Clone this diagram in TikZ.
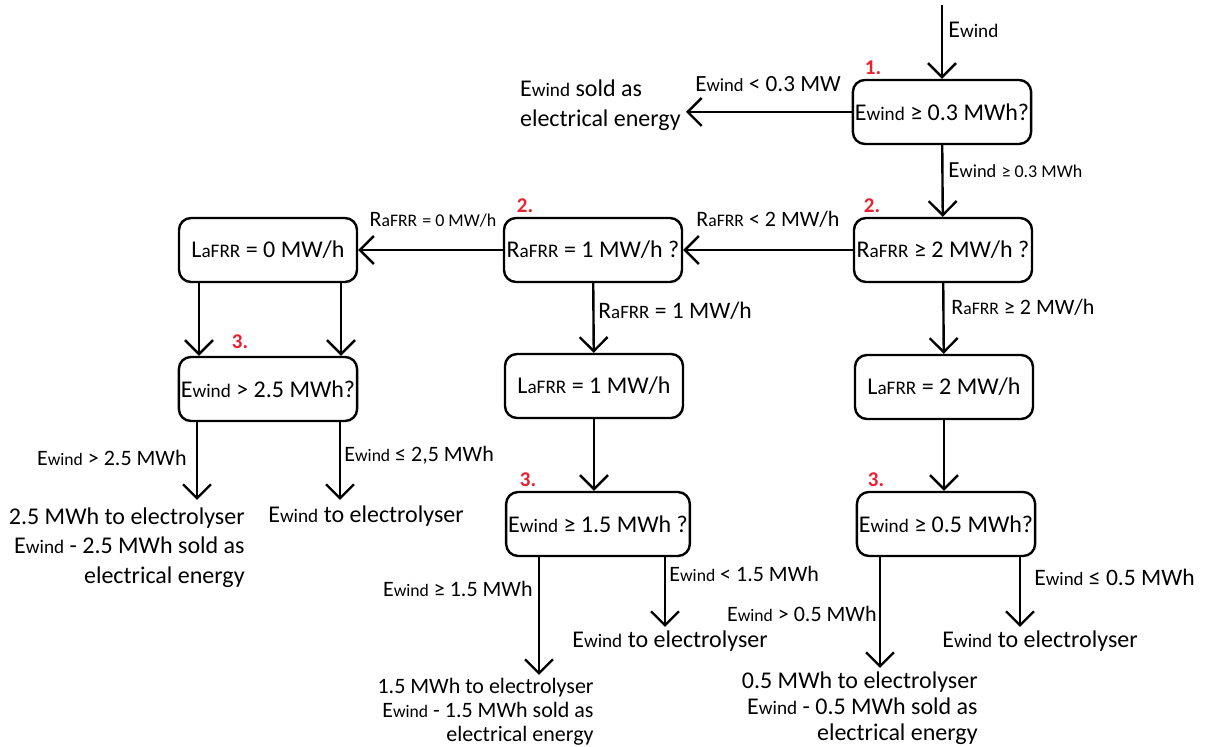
\documentclass[tikz,border=0pt]{standalone}
\usepackage{fontspec}
\setmainfont{Carlito}
\usetikzlibrary{arrows.meta}
\makeatletter
\newcommand\lw[1]{{\fontsize{\strip@pt\dimexpr0.8\dimexpr\f@size pt\relax\relax}{\f@baselineskip}\selectfont#1}}
\makeatother
\newcommand\Ew{E\lw{wind}}
\newcommand\Ra{R\lw{aFRR}}
\newcommand\La{L\lw{aFRR}}
\definecolor{stepred}{RGB}{232,32,48}

\begin{document}
\begin{tikzpicture}[
    x={(0.5pt,0)}, y={(0,-0.5pt)},
    box/.style={draw=black, line width=1.2pt, rounded corners=6pt,
        minimum width=89pt, minimum height=32pt, inner sep=1pt,
        font=\fontsize{12}{14}\selectfont},
    arr/.style={line width=1.2pt, -{Straight Barb[length=7pt, width=14pt]}},
    lbl/.style={font=\fontsize{11}{13}\selectfont, inner sep=1pt},
    res/.style={font=\fontsize{12}{14.75}\selectfont, inner sep=0pt},
    num/.style={text=stepred, font=\bfseries\fontsize{10.5}{12}\selectfont, inner sep=0pt}
]
    \useasboundingbox (0,0) rectangle (1207,747);

    % decision boxes
    \node[box] (q1) at (942,112) {\Ew{} ≥ 0.3 MWh?};
    \node[box] (q2) at (943,250) {\Ra{} ≥ 2 MW/h ?};
    \node[box] (q3) at (593,250) {\Ra{} = 1 MW/h ?};
    \node[box] (l0) at (268,250) {\La{} = 0 MW/h};
    \node[box] (q5) at (268,389) {\Ew{} > 2.5 MWh?};
    \node[box] (l1) at (594,386) {\La{} = 1 MW/h};
    \node[box] (q7) at (598,524) {\Ew{} ≥ 1.5 MWh ?};
    \node[box] (l2) at (944,387) {\La{} = 2 MW/h};
    \node[box] (q9) at (946,524) {\Ew{} ≥ 0.5 MWh?};

    % step numbers
    \node[num] (n1) at (873,68) {1.};
    \node[num] (n2a) at (872,206) {2.};
    \node[num] (n2b) at (525,206) {2.};
    \node[num] (n3a) at (240,342) {3.};
    \node[num] (n3b) at (528,480) {3.};
    \node[num] (n3c) at (876,480) {3.};

    % step 1
    \coordinate (start) at (942,5);
    \draw[arr] (start) -- (q1);
    \node[lbl, anchor=west, font=\fontsize{12}{14}\selectfont] (lstart) at (946,30) {\Ew};
    \coordinate (sold1) at (686,112);
    \draw[arr] (q1) -- (sold1);
    \node[lbl, font=\fontsize{11.6}{13}\selectfont] (lq1no) at (768,84) {\Ew{} < 0.3 MW};
    \node[res, anchor=east, align=left] (r1) at (681,105) {\Ew{} sold as\\electrical energy};
    \draw[arr] (q1) -- (q2);
    \node[lbl, anchor=west, font=\fontsize{11.5}{13}\selectfont] (lq1yes) at (946,170) {\Ew{} {\fontsize{9}{10}\selectfont ≥ 0.3 MWh}};

    % step 2
    \draw[arr] (q2) -- (q3);
    \node[lbl] (lq2no) at (768,219) {\Ra{} < 2 MW/h};
    \draw[arr] (q3) -- (l0);
    \node[lbl] (lq3no) at (433,220) {\Ra{} {\fontsize{9}{10}\selectfont = 0 MW/h}};
    \draw[arr] (q3) -- (l1);
    \node[lbl, anchor=west, font=\fontsize{11.8}{13}\selectfont] (lq3yes) at (596,311) {\Ra{} = 1 MW/h};
    \draw[arr] (q2) -- (l2);
    \node[lbl, anchor=west, font=\fontsize{11}{13}\selectfont] (lq2yes) at (949,307) {\Ra{} ≥ 2 MW/h};

    % step 3, left branch
    \draw[arr] ([xshift=-34.5pt]l0.south) -- ([xshift=-34.5pt]q5.north);
    \draw[arr] ([xshift=36.5pt]l0.south) -- ([xshift=36.5pt]q5.north);
    \coordinate (e5a) at (197,500);
    \coordinate (e5b) at (340,500);
    \draw[arr] (q5.south -| e5a) -- (e5a);
    \draw[arr] (q5.south -| e5b) -- (e5b);
    \node[lbl, anchor=east] (lq5yes) at (189,458) {\Ew{} > 2.5 MWh};
    \node[lbl, anchor=west] (lq5no) at (342,455) {\Ew{} ≤ 2,5 MWh};
    \node[res, anchor=north east, align=right] (r5a) at (245,507) {2.5 MWh to electrolyser\\\Ew{} - 2.5 MWh sold as\\electrical energy};
    \node[res, anchor=north] (r5b) at (366,505) {\Ew{} to electrolyser};

    % step 3, middle branch
    \draw[arr] (l1) -- (l1 |- q7.north);
    \coordinate (e7a) at (539,675);
    \coordinate (e7b) at (665,627);
    \draw[arr] (q7.south -| e7a) -- (e7a);
    \draw[arr] (q7.south -| e7b) -- (e7b);
    \node[lbl, anchor=east] (lq7yes) at (535,589) {\Ew{} ≥ 1.5 MWh};
    \node[lbl, anchor=west] (lq7no) at (667,574) {\Ew{} < 1.5 MWh};
    \node[res, font=\fontsize{11}{12}\selectfont, anchor=north east, align=right] (r7a) at (594,678) {1.5 MWh to electrolyser\\\Ew{} - 1.5 MWh sold as\\electrical energy};
    \node[res] (r7b) at (670,641) {\Ew{} to electrolyser};

    % step 3, right branch
    \draw[arr] (l2) -- (l2 |- q9.north);
    \coordinate (e9a) at (880,668);
    \coordinate (e9b) at (1020,627);
    \draw[arr] (q9.south -| e9a) -- (e9a);
    \draw[arr] (q9.south -| e9b) -- (e9b);
    \node[lbl, anchor=east] (lq9yes) at (879,614) {\Ew{} > 0.5 MWh};
    \node[lbl, anchor=west, font=\fontsize{11.8}{13}\selectfont] (lq9no) at (1032,577) {\Ew{} ≤ 0.5 MWh};
    \node[res, font=\fontsize{12}{13}\selectfont, anchor=north east, align=right] (r9a) at (978,671) {0.5 MWh to electrolyser\\\Ew{} - 0.5 MWh sold as\\electrical energy};
    \node[res] (r9b) at (1040,641) {\Ew{} to electrolyser};
\end{tikzpicture}
\end{document}
